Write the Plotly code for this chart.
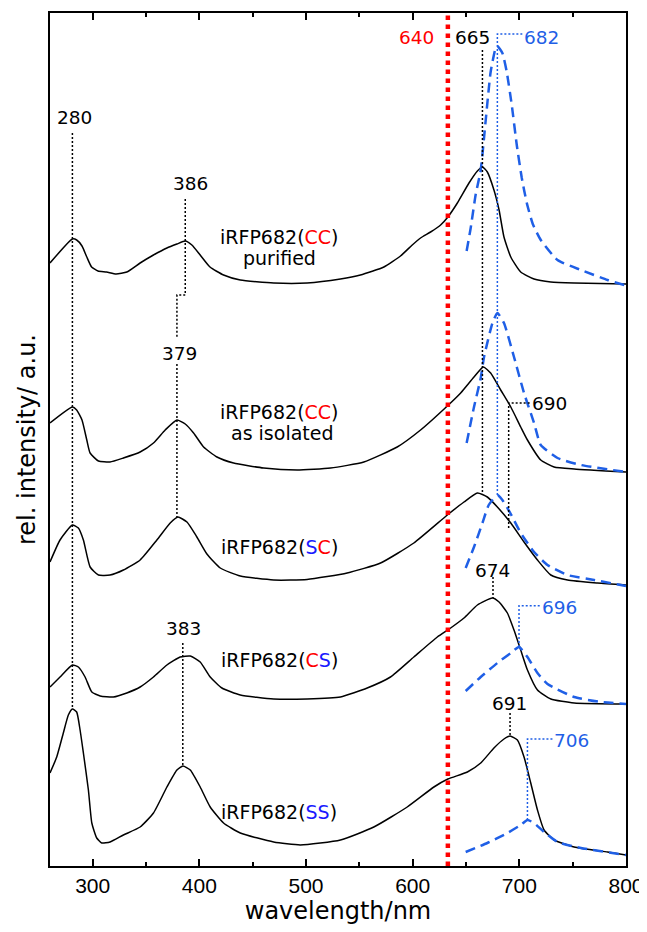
import plotly.graph_objects as go

# ---------------- data (wavelength in nm, intensity in a.u.) ----------------
wl_cc_pur = [260, 281, 285, 290, 294.5, 299, 305, 313, 322, 332, 344.5, 357, 369.6, 379, 386.8, 393, 400.8, 410,
             422.7, 438.4, 469.7, 501, 532.3, 551, 573, 588.6, 599.6, 607.4, 616.8, 626.2, 633, 641.9, 652.8, 660.7,
             665.4, 670, 676.2, 681, 685.6, 692, 701.3, 713.8, 729.5, 751.4, 800]
abs_cc_pur = [603, 627, 626, 620, 609, 599, 595, 594, 592, 594, 603, 611, 618, 622, 625, 621, 611, 599,
              591, 586, 583, 583, 587, 591, 599, 610, 621, 628, 634, 641, 649, 663, 683, 695,
              699, 694, 676, 656, 629, 609, 594, 587, 584, 583, 582]

wl_cc_iso = [260, 281, 285, 290, 294.5, 297.6, 305.4, 316.3, 328.8, 344.5, 357, 368, 379, 386.8, 394.6, 404, 416.5,
             432.1, 460.3, 491.6, 523, 554.2, 585.5, 607.4, 632.5, 645, 657.5, 666.3, 673.1, 682.5, 692, 701.3,
             707.6, 720.1, 732.6, 751.4, 800]
abs_cc_iso = [443, 459, 456, 446, 426, 413, 405, 404, 408, 414, 423, 436, 446, 442, 433, 419, 409,
              403, 398, 396, 398, 404, 419, 436, 460, 473, 489, 499, 493, 476, 459, 439,
              426, 406, 399, 397, 394]

wl_sc = [260, 269.4, 281, 286.6, 291.3, 297.6, 305.4, 316.3, 328.8, 344.5, 360.2, 372.7, 379.9, 388.4, 397.7, 407.1,
         419.6, 438.4, 469.7, 501, 538.6, 569.9, 601.1, 632.5, 648.1, 660.7, 670, 679.4, 692, 704.4, 717, 729.5,
         745.2, 773.3, 800]
abs_sc = [304, 326, 341, 338, 326, 299, 291, 291, 296, 306, 326, 343, 349, 344, 329, 312,
          298, 290, 286, 286.5, 293, 303, 323, 351, 364, 373, 369, 359, 343, 324, 306, 291,
          286, 283, 281]

wl_cs = [260, 269.4, 281, 286.6, 292.9, 299.2, 307, 319.4, 332, 344.5, 357, 369.6, 382, 391.5, 400.8, 410.2, 421.2,
         438.4, 469.7, 501, 532.3, 557.4, 579.2, 601.1, 623.1, 635.6, 648.1, 660.7, 674.7, 681, 688.8, 695, 701.3,
         707.6, 717, 729.5, 751.4, 800]
abs_cs = [179, 189, 201, 199, 189, 174, 170, 169, 173, 179, 189, 201, 209, 210, 204, 189, 178,
          171, 167, 167, 169, 178, 189, 209, 229, 238, 248, 261, 268, 264, 253, 236, 216,
          196, 176, 167, 163, 162]

wl_ss = [260, 266.3, 272.5, 277.2, 281, 285, 288.2, 291.3, 296, 299.2, 303.8, 308.5, 316.3, 328.8, 344.5, 357,
         369.6, 379, 384.6, 391.5, 400.8, 410.2, 422.7, 438.4, 469.7, 494.7, 532.3, 563.6, 594.9, 619.9, 633,
         651.3, 663.8, 676.2, 685.6, 691.3, 698.2, 704.4, 710.7, 717, 723.2, 732.6, 751.4, 782.7, 800]
abs_ss = [93, 109, 133, 151, 157, 154, 136, 113, 76, 43, 28, 23, 24, 31, 39, 53,
          79, 96, 100, 96, 79, 59, 43, 33, 24, 21, 26, 39, 59, 79, 87,
          94, 103, 118, 127, 130, 126, 109, 83, 56, 36, 26, 19, 14, 11]

# emission spectra
em_wl_cc_pur = [650.6, 654.4, 659, 663.8, 668.5, 673.1, 677.8, 679.4, 684.1, 688.2, 692.9, 697.6, 702.3, 707,
                712.6, 720.1, 735.8, 757.7, 782.7, 800]
em_cc_pur = [615, 638, 671, 696, 746, 794, 818, 820, 813, 794, 761, 721, 688, 663, 642, 626, 606, 596, 586, 580.5]

em_wl_cc_iso = [650.6, 657.5, 663.8, 666.9, 674.8, 679.4, 685.6, 695, 704.4, 713.8, 720.1, 735.8, 757.7, 800]
em_cc_iso = [423, 459, 488, 509, 543, 553, 543, 509, 473, 443, 421, 408, 401, 394]

em_wl_sc = [649.7, 657.5, 665.4, 671.3, 679.4, 684.1, 692, 701.3, 713.8, 726.4, 745.2, 770.1, 800]
em_sc = [298, 319, 343, 361, 371, 366, 352, 333, 314, 301, 291, 286, 280]

em_wl_cs = [649.7, 663.8, 679.4, 692, 699.7, 707.6, 717, 726.4, 751.4, 776.5, 800]
em_cs = [175, 189, 203, 213, 219, 209, 193, 182, 169, 164, 162]

em_wl_ss = [649.7, 670, 688.8, 701.3, 707.6, 713.8, 723.2, 735.8, 757.7, 800]
em_ss = [14, 23, 33, 41, 46, 43, 34, 24, 18, 11]

excitation_wl = 633
x_ticks = [300, 400, 500, 600, 700, 800]

# peak guide lines (wavelength, intensity) vertices
guides_black = [
    ([281, 281], [733, 157]),
    ([386.8, 386.8, 379, 379], [667, 571, 571, 529]),
    ([379, 379], [502, 349]),
    ([384.5, 384.5], [223, 100]),
    ([665.4, 665.4], [816, 374]),
    ([690, 690, 710.7], [338, 463, 463]),
    ([675.3, 675.3], [289, 268]),
    ([691.3, 691.3], [153, 130]),
]
guides_blue = [
    ([679.4, 679.4, 702.8], [371, 832, 832]),
    ([699.7, 699.7, 720.1], [219, 260.3, 260.3]),
    ([707.6, 707.6, 731.4], [46, 127, 127]),
]
RED = "#ff0000"
BLUE = "#1f5fe6"
SBLUE = "#1a1aff"
peak_labels = [
    ("640", 603.7, 829, RED), ("665", 656.2, 829, "black"), ("682", 721, 829, BLUE),
    ("280", 282.5, 749, "black"), ("386", 392, 683, "black"), ("379", 381.6, 513, "black"),
    ("383", 384.9, 238, "black"), ("690", 728.5, 463, "black"), ("674", 674.6, 296, "black"),
    ("696", 737.5, 259, BLUE), ("691", 691, 163, "black"), ("706", 748.9, 126, BLUE),
]
cc = f"<span style='color:{RED}'>CC</span>"
sc = f"<span style='color:{SBLUE}'>S</span><span style='color:{RED}'>C</span>"
cs = f"<span style='color:{RED}'>C</span><span style='color:{SBLUE}'>S</span>"
ss = f"<span style='color:{SBLUE}'>SS</span>"
sample_labels = [
    (f"iRFP682({cc})", 475, 629), ("purified", 475, 608),
    (f"iRFP682({cc})", 475, 454), ("as isolated", 478, 433),
    (f"iRFP682({sc})", 475, 319), (f"iRFP682({cs})", 475, 206), (f"iRFP682({ss})", 475, 54),
]

fig = go.Figure()
for x, y in [(wl_cc_pur, abs_cc_pur), (wl_cc_iso, abs_cc_iso), (wl_sc, abs_sc), (wl_cs, abs_cs), (wl_ss, abs_ss)]:
    fig.add_trace(go.Scatter(x=x, y=y, mode="lines", showlegend=False, hoverinfo="skip",
                             line=dict(color="black", width=1.5, shape="spline", smoothing=0.5)))
for x, y in [(em_wl_cc_pur, em_cc_pur), (em_wl_cc_iso, em_cc_iso), (em_wl_sc, em_sc), (em_wl_cs, em_cs),
             (em_wl_ss, em_ss)]:
    fig.add_trace(go.Scatter(x=x, y=y, mode="lines", showlegend=False, hoverinfo="skip",
                             line=dict(color=BLUE, width=2.5, dash="10px,6px", shape="spline", smoothing=0.5)))
for x, y in guides_black:
    fig.add_trace(go.Scatter(x=x, y=y, mode="lines", showlegend=False, hoverinfo="skip",
                             line=dict(color="black", width=1.5, dash="2px,2px")))
for x, y in guides_blue:
    fig.add_trace(go.Scatter(x=x, y=y, mode="lines", showlegend=False, hoverinfo="skip",
                             line=dict(color=BLUE, width=1.5, dash="2px,2px")))

fig.add_shape(type="line", x0=excitation_wl, x1=excitation_wl, y0=0, y1=1, xref="x", yref="paper",
              line=dict(color=RED, width=4.5, dash="dot"))

for t, x, y, c in peak_labels:
    fig.add_annotation(x=x, y=y, text=t, showarrow=False, xanchor="center", yanchor="middle",
                       font=dict(family="DejaVu Sans", size=18.5, color=c))
for t, x, y in sample_labels:
    fig.add_annotation(x=x, y=y, text=t, showarrow=False, xanchor="center", yanchor="middle",
                       font=dict(family="DejaVu Sans", size=19, color="black"))

# page body has an 8px margin, so the figure is 639x924 and sits at (8, 8)
fig.update_layout(
    width=639, height=924,
    margin=dict(l=42, r=21, t=5, b=66, autoexpand=False),
    plot_bgcolor="white", paper_bgcolor="white",
    xaxis=dict(range=[260, 800], tickvals=x_ticks, ticks="inside", ticklen=7, tickwidth=1.5,
               tickcolor="black", showline=True, linewidth=2, linecolor="black", mirror="ticks",
               showgrid=False, zeroline=False, automargin=False,
               minor=dict(dtick=50, tick0=250, ticks="inside", ticklen=4, tickwidth=1.5, tickcolor="black"),
               tickfont=dict(family="Liberation Sans", size=21, color="black"),
               title=dict(text="wavelength/nm", font=dict(family="DejaVu Sans", size=24, color="black"),
                          standoff=2)),
    yaxis=dict(range=[0, 853], showticklabels=False, ticks="", showline=True, linewidth=2,
               linecolor="black", mirror=True, showgrid=False, zeroline=False, automargin=False,
               title=dict(text="rel. intensity/ a.u.", font=dict(family="DejaVu Sans", size=24, color="black"),
                          standoff=6)),
)
fig.write_html("out.html")
